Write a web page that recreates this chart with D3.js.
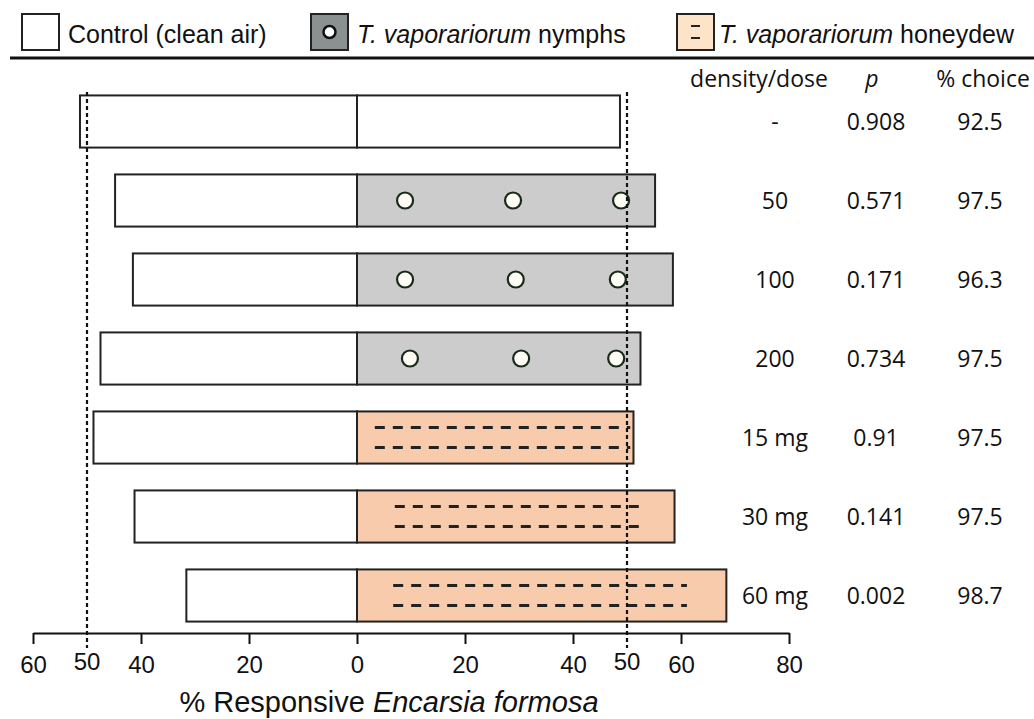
<!DOCTYPE html>
<html lang="en">
<head>
  <meta charset="UTF-8">
  <title>Encarsia formosa olfactometer responses</title>
  <script src="https://d3js.org/d3.v7.min.js"></script>
  <style>
    body {
      margin: 0;
      background: #fff;
    }
    svg text {
      fill: #111;
    }
    .legend text, .axis text, .axis-title {
      font-family: "Liberation Sans", Arial, sans-serif;
    }
    .table text {
      font-family: "Open Sans", sans-serif;
    }
    .axis path, .axis line {
      stroke: #111;
      stroke-width: 2;
    }
  </style>
</head>
<body>
  <svg width="1034" height="719"></svg>
  <script>
    // rows, top to bottom
    const doses = ["-", "50", "100", "200", "15 mg", "30 mg", "60 mg"];
    const treatment = ["control", "nymphs", "nymphs", "nymphs", "honeydew", "honeydew", "honeydew"];
    const controlPct = [51.3, 44.8, 41.5, 47.5, 48.8, 41.2, 31.6];
    const odourPct = [48.7, 55.2, 58.5, 52.5, 51.2, 58.8, 68.4];
    const pValues = ["0.908", "0.571", "0.171", "0.734", "0.91", "0.141", "0.002"];
    const choicePct = ["92.5", "97.5", "96.3", "97.5", "97.5", "97.5", "98.7"];

    // pattern marks inside the odour bars (in % units)
    const nymphDots = [[], [8.9, 28.9, 48.9], [8.9, 29.4, 48.3], [9.8, 30.4, 48.0], [], [], []];
    const dashSpan = [null, null, null, null, [3.3, 50.6], [7.0, 52.8], [6.7, 61.1]];

    const tickValues = [-60, -40, -20, 0, 20, 40, 60, 80];
    const refLines = [-50, 50];

    const fills = { control: "#ffffff", nymphs: "#cccccc", honeydew: "#f7cbab" };

    const svg = d3.select("svg");
    const rows = doses.map((d, i) => i);

    const x = d3.scaleLinear().domain([-60, 80]).range([33, 789]);
    const y = d3.scaleBand().domain(rows).range([82, 635]).paddingInner(0.34).paddingOuter(0.17);
    const axisY = 633;

    // legend
    const legend = svg.append("g").attr("class", "legend");
    legend.append("line")
      .attr("x1", 10).attr("x2", 1034).attr("y1", 58).attr("y2", 58)
      .attr("stroke", "#111").attr("stroke-width", 3);

    const legendItems = [
      { x: 22, tx: 68, fill: "#fff", pre: "", main: "Control (clean air)" },
      { x: 311, tx: 357, fill: "#8b9091", pre: "T. vaporariorum", main: " nymphs" },
      { x: 677, tx: 719, fill: "#fde3c8", pre: "T. vaporariorum", main: " honeydew" }
    ];
    legendItems.forEach((it, k) => {
      legend.append("rect")
        .attr("x", it.x).attr("y", 14).attr("width", 37).attr("height", 36)
        .attr("fill", it.fill).attr("stroke", "#222").attr("stroke-width", 2);
      if (k === 1) {
        legend.append("circle").attr("cx", it.x + 18.5).attr("cy", 32).attr("r", 6)
          .attr("fill", "#fff").attr("stroke", "#111").attr("stroke-width", 2.5);
      }
      if (k === 2) {
        [26, 38].forEach(yy => legend.append("line")
          .attr("x1", it.x + 14).attr("x2", it.x + 23).attr("y1", yy).attr("y2", yy)
          .attr("stroke", "#222").attr("stroke-width", 2));
      }
      const t = legend.append("text").attr("x", it.tx).attr("y", 43).attr("font-size", 25);
      if (it.pre) t.append("tspan").attr("font-style", "italic").text(it.pre);
      t.append("tspan").text(it.main);
    });

    // bars
    const bars = svg.append("g");
    bars.selectAll(".left").data(rows).enter().append("rect")
      .attr("x", i => x(-controlPct[i]))
      .attr("y", i => y(i))
      .attr("width", i => x(0) - x(-controlPct[i]))
      .attr("height", y.bandwidth())
      .attr("fill", "#fff").attr("stroke", "#222").attr("stroke-width", 2);

    bars.selectAll(".right").data(rows).enter().append("rect")
      .attr("x", x(0))
      .attr("y", i => y(i))
      .attr("width", i => x(odourPct[i]) - x(0))
      .attr("height", y.bandwidth())
      .attr("fill", i => fills[treatment[i]]).attr("stroke", "#222").attr("stroke-width", 2);

    // nymph dots
    rows.forEach(i => {
      bars.selectAll(null).data(nymphDots[i]).enter().append("circle")
        .attr("cx", d => x(d))
        .attr("cy", y(i) + y.bandwidth() / 2)
        .attr("r", 8)
        .attr("fill", "#fdfdf6").attr("stroke", "#1a2a1a").attr("stroke-width", 2.2);
    });

    // honeydew dashes
    rows.filter(i => dashSpan[i]).forEach(i => {
      [-10, 10].forEach(off => {
        bars.append("line")
          .attr("x1", x(dashSpan[i][0])).attr("x2", x(dashSpan[i][1]))
          .attr("y1", y(i) + y.bandwidth() / 2 + off).attr("y2", y(i) + y.bandwidth() / 2 + off)
          .attr("stroke", "#222").attr("stroke-width", 2.8)
          .attr("stroke-dasharray", "10,8");
      });
    });

    // 50% reference lines
    svg.append("g").selectAll("line").data(refLines).enter().append("line")
      .attr("x1", d => x(d)).attr("x2", d => x(d))
      .attr("y1", 92).attr("y2", 648)
      .attr("stroke", "#111").attr("stroke-width", 2.2)
      .attr("stroke-dasharray", "4,3");

    // axis
    const axis = svg.append("g").attr("class", "axis")
      .attr("transform", `translate(0,${axisY})`)
      .call(d3.axisBottom(x).tickValues(tickValues).tickSize(11).tickSizeOuter(0)
        .tickFormat(d => Math.abs(d)));
    axis.selectAll("text").attr("font-size", 24).attr("y", 40).attr("dy", 0).attr("fill", "#111");

    svg.append("g").attr("class", "axis").selectAll("text").data(refLines).enter().append("text")
      .attr("x", d => x(d)).attr("y", axisY + 37)
      .attr("text-anchor", "middle").attr("font-size", 24)
      .text(d => Math.abs(d));

    const title = svg.append("text").attr("class", "axis-title")
      .attr("x", 389).attr("y", 712).attr("text-anchor", "middle").attr("font-size", 29);
    title.append("tspan").text("% Responsive ");
    title.append("tspan").attr("font-style", "italic").text("Encarsia formosa");

    // table at right
    const table = svg.append("g").attr("class", "table");
    const cols = [
      { hx: 759, cx: 775, head: "density/dose", vals: doses, italic: false },
      { hx: 872, cx: 876, head: "p", vals: pValues, italic: true },
      { hx: 983, cx: 980, head: "% choice", vals: choicePct, italic: false }
    ];
    cols.forEach(c => {
      table.append("text").attr("x", c.hx).attr("y", 87).attr("text-anchor", "middle")
        .attr("font-size", 23).attr("font-style", c.italic ? "italic" : null).text(c.head);
      table.selectAll(null).data(rows).enter().append("text")
        .attr("x", c.cx)
        .attr("y", i => y(i) + y.bandwidth() / 2 + 8)
        .attr("text-anchor", "middle")
        .attr("font-size", 23)
        .text(i => c.vals[i]);
    });
  </script>
</body>
</html>
